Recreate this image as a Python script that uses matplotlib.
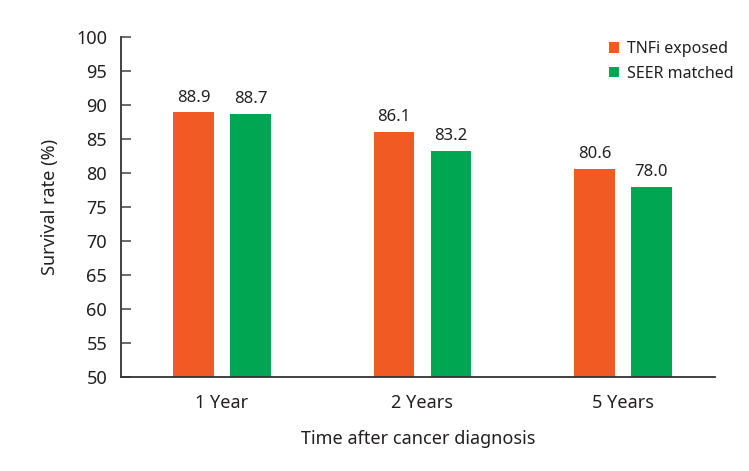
import matplotlib
matplotlib.use("Agg")
import matplotlib.pyplot as plt
import numpy as np

categories = ["1 Year", "2 Years", "5 Years"]
tnfi = [88.9, 86.1, 80.6]
seer = [88.7, 83.2, 78.0]
series_names = ["TNFi exposed", "SEER matched"]
yticks = [50, 55, 60, 65, 70, 75, 80, 85, 90, 95, 100]

plt.rcParams['font.family'] = ['Noto Sans', 'DejaVu Sans']
txt = '#231F20'
c_orange = '#F15A22'
c_green = '#00A651'

fig = plt.figure(figsize=(7.49, 4.71), dpi=100)
ax = fig.add_axes([0.1615, 0.1996, 0.7931, 0.7218])

x = np.arange(len(categories))
w = 0.204
off = 0.142
b1 = ax.bar(x - off, [v - 50 for v in tnfi], w, bottom=50, color=c_orange, label=series_names[0])
b2 = ax.bar(x + off, [v - 50 for v in seer], w, bottom=50, color=c_green, label=series_names[1])

for bars, vals in ((b1, tnfi), (b2, seer)):
    for r, v in zip(bars, vals):
        ax.text(r.get_x() + r.get_width() / 2, v + 1.0, f"{v:.1f}", ha='center', va='bottom',
                fontsize=12, color=txt)

ax.set_ylim(50, 100)
ax.set_xlim(-0.504, 2.459)
ax.set_yticks(yticks)
ax.set_xticks(x)
ax.set_xticklabels(categories)
for s in ('top', 'right'):
    ax.spines[s].set_visible(False)
for s in ('left', 'bottom'):
    ax.spines[s].set_color('#333333')
    ax.spines[s].set_linewidth(1.3)
ax.tick_params(axis='y', direction='in', length=7, width=1.1, color='#444444', labelsize=13,
               labelcolor=txt, pad=10)
ax.tick_params(axis='x', length=0, labelsize=13, labelcolor=txt, pad=12)
ax.set_ylabel("Survival rate (%)", fontsize=13, color=txt, labelpad=12)
ax.set_xlabel("Time after cancer diagnosis", fontsize=13, color=txt, labelpad=13)

leg = ax.legend(loc='upper right', bbox_to_anchor=(1.055, 1.03), frameon=False, fontsize=11.5,
                handlelength=0.6, handleheight=0.6, handletextpad=0.5, labelspacing=0.55)
for t in leg.get_texts():
    t.set_color(txt)

fig.savefig("out.png", dpi=100)
